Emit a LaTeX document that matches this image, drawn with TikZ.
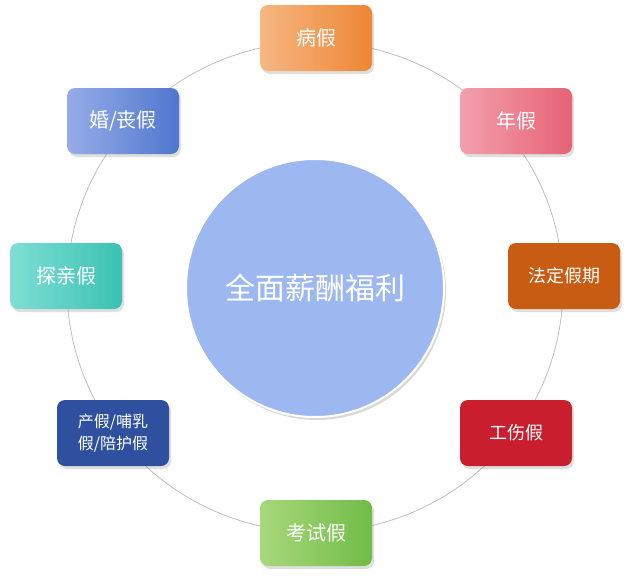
\documentclass[tikz,border=0pt]{standalone}
\usepackage{fontspec}
\setmainfont{Noto Sans CJK SC}
\usetikzlibrary{shadows}
\begin{document}
\begin{tikzpicture}[x=1pt,y=-1pt,
 box/.style={rounded corners=8pt,minimum width=112pt,minimum height=66pt,text=white,font=\fontsize{20}{24}\selectfont,align=center,inner sep=2pt,drop shadow={opacity=0.25,shadow xshift=2pt,shadow yshift=-3pt}},
 g/.style 2 args={top color=#1,bottom color=#2,shading angle=135}]
\useasboundingbox (0,0) rectangle (629,582);
\draw[gray!50,line width=0.8pt] (315,287) ellipse (248pt and 245pt);
\node[circle,minimum size=258pt,fill=blue!45!cyan!30!white,draw=white,line width=2pt,drop shadow={opacity=0.3,shadow xshift=2pt,shadow yshift=-3pt},fill={rgb,255:red,157;green,183;blue,240},text=white,font=\fontsize{30}{36}\selectfont] (c) at (315,288) {全面薪酬福利};
\node[box,left color={rgb,255:red,246;green,183;blue,130},right color={rgb,255:red,238;green,134;blue,52}] (a) at (316,38) {病假};
\node[box,left color={rgb,255:red,242;green,160;blue,172},right color={rgb,255:red,230;green,98;blue,118}] (b) at (516,121) {年假};
\node[box,left color={rgb,255:red,150;green,172;blue,232},right color={rgb,255:red,80;green,118;blue,206}] (h) at (123,121) {婚/丧假};
\node[box,left color={rgb,255:red,128;green,222;blue,212},right color={rgb,255:red,58;green,194;blue,178}] (t) at (66,276) {探亲假};
\node[box,fill={rgb,255:red,200;green,92;blue,18},font=\fontsize{18}{22}\selectfont] (f) at (564,276) {法定假期};
\node[box,fill={rgb,255:red,46;green,80;blue,158},font=\fontsize{16}{22}\selectfont] (p) at (113,433) {产假/哺乳\\假/陪护假};
\node[box,fill={rgb,255:red,200;green,30;blue,46},font=\fontsize{18}{22}\selectfont] (g) at (516,433) {工伤假};
\node[box,left color={rgb,255:red,168;green,216;blue,122},right color={rgb,255:red,112;green,188;blue,72}] (k) at (316,533) {考试假};
\end{tikzpicture}
\end{document}
